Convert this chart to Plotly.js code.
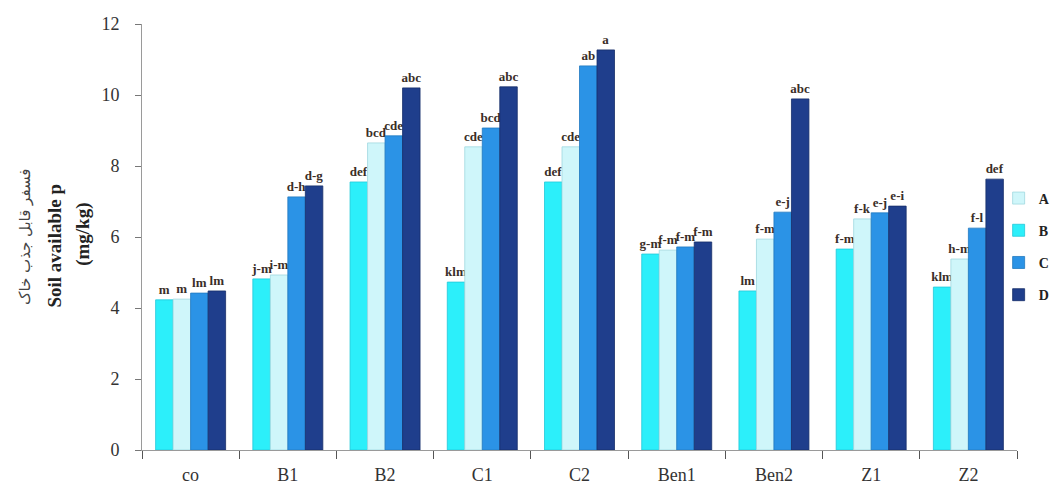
<!DOCTYPE html>
<html>
<head>
<meta charset="utf-8">
<script src="https://cdn.plot.ly/plotly-3.0.1.min.js"></script>
<style>html,body{margin:0;padding:0;background:#fff;}#chart{width:1054px;height:494px;}</style>
</head>
<body>
<div id="chart"></div>
<script>
const categories = ["co", "B1", "B2", "C1", "C2", "Ben1", "Ben2", "Z1", "Z2"];

const valuesB = [4.23, 4.82, 7.55, 4.73, 7.55, 5.52, 4.48, 5.66, 4.59];
const valuesA = [4.25, 4.93, 8.65, 8.54, 8.54, 5.63, 5.94, 6.51, 5.38];
const valuesC = [4.42, 7.13, 8.85, 9.07, 10.82, 5.72, 6.70, 6.68, 6.25];
const valuesD = [4.48, 7.44, 10.20, 10.23, 11.27, 5.86, 9.89, 6.87, 7.63];

const lettersB = ["m", "j-m", "def", "klm", "def", "g-m", "lm", "f-m", "klm"];
const lettersA = ["m", "i-m", "bcd", "cde", "cde", "f-m", "f-m", "f-k", "h-m"];
const lettersC = ["lm", "d-h", "cde", "bcd", "ab", "f-m", "e-j", "e-j", "f-l"];
const lettersD = ["lm", "d-g", "abc", "abc", "a", "f-m", "abc", "e-i", "def"];

const seriesNames = ["B", "A", "C", "D"];
const yTicks = [0, 2, 4, 6, 8, 10, 12];

const colors = {B: "#2CEFFA", A: "#CFF6FA", C: "#2B93E6", D: "#1F3E8C"};
const lineColors = {B: "#22C8D8", A: "#9FD8E0", C: "#2178C0", D: "#172E6A"};
const ranks = {A: 1, B: 2, C: 3, D: 4};

const vals = {B: valuesB, A: valuesA, C: valuesC, D: valuesD};
const labs = {B: lettersB, A: lettersA, C: lettersC, D: lettersD};

const serif = "'Liberation Serif', 'Times New Roman', 'DejaVu Serif', serif";

const traces = seriesNames.map(n => ({
  type: "bar",
  name: n,
  x: categories,
  y: vals[n],
  text: labs[n],
  textposition: "outside",
  constraintext: "none",
  cliponaxis: false,
  textfont: {family: serif, size: 13, color: "#3a2e28", weight: "bold"},
  marker: {color: colors[n], line: {color: lineColors[n], width: 0.8}},
  legendgroup: n,
  legendrank: ranks[n],
  hoverinfo: "x+y+name"
}));

const layout = {
  width: 1054,
  height: 494,
  font: {family: serif},
  paper_bgcolor: "#ffffff",
  plot_bgcolor: "#ffffff",
  margin: {l: 142, r: 37, t: 24, b: 44, autoexpand: false},
  barmode: "group",
  bargap: 0.28,
  bargroupgap: 0,
  showlegend: true,
  legend: {
    x: 0.979, xanchor: "left", y: 0.628, yanchor: "top",
    bgcolor: "rgba(0,0,0,0)",
    font: {family: serif, size: 14, color: "#222", weight: "bold"},
    tracegroupgap: 11,
    traceorder: "grouped"
  },
  xaxis: {
    type: "category",
    showline: true, linecolor: "#9a9a9a", linewidth: 1,
    ticks: "outside", tickson: "boundaries", ticklen: 8, tickcolor: "#555",
    tickfont: {family: serif, size: 18, color: "#333"},
    ticklabelstandoff: 8,
    showgrid: false, zeroline: false
  },
  yaxis: {
    range: [0, 12],
    tickvals: yTicks,
    showline: true, linecolor: "#9a9a9a", linewidth: 1,
    ticks: "outside", ticklen: 6, tickcolor: "#777",
    tickfont: {family: serif, size: 18, color: "#333"},
    ticklabelstandoff: 12,
    showgrid: false, zeroline: false
  },
  annotations: [
    {xref: "paper", yref: "paper", x: -142/875 + 25/875, xanchor: "center", y: 0.5, yanchor: "middle",
     text: "فسفر قابل جذب خاک", textangle: -90, showarrow: false,
     font: {family: "'DejaVu Sans', 'Noto Sans', sans-serif", size: 15, color: "#444"}},
    {xref: "paper", yref: "paper", x: -142/875 + 55/875, xanchor: "center", y: 0.5 - 0.02, yanchor: "middle",
     text: "<b>Soil available p</b>", textangle: -90, showarrow: false,
     font: {family: serif, size: 19, color: "#222"}},
    {xref: "paper", yref: "paper", x: -142/875 + 83/875, xanchor: "center", y: 0.5 + 0.005, yanchor: "middle",
     text: "<b>(mg/kg)</b>", textangle: -90, showarrow: false,
     font: {family: serif, size: 19, color: "#222"}}
  ]
};

Plotly.newPlot("chart", traces, layout, {displayModeBar: false, responsive: false});
</script>
</body>
</html>
